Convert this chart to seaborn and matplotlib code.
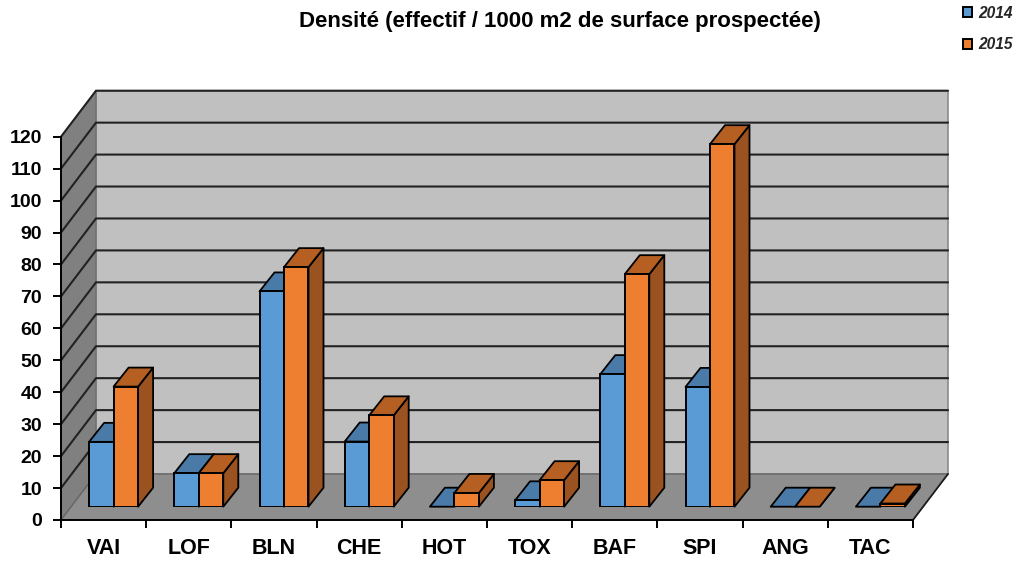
import numpy as np
import pandas as pd
import matplotlib
matplotlib.use("Agg")
import matplotlib.pyplot as plt
from matplotlib.patches import Polygon
import seaborn as sns

categories = ["VAI", "LOF", "BLN", "CHE", "HOT", "TOX", "BAF", "SPI", "ANG", "TAC"]
values_2014 = [20.3, 10.5, 67.4, 20.4, 0, 2, 41.5, 37.5, 0, 0]
values_2015 = [37.6, 10.5, 75, 28.6, 4.3, 8.3, 72.8, 113.5, 0, 1]
years = ["2014", "2015"]
y_ticks = list(range(0, 130, 10))
title = "Densité (effectif / 1000 m2 de surface prospectée)"

W, H = 1020, 565
BLUE, ORANGE = "#5B9BD5", "#EE7F31"
TOP = {0: "#4A7BA8", 1: "#B55F22"}
SIDE = {0: "#41709C", 1: "#9A5220"}

sns.set_theme(style="white")
plt.rcParams["font.family"] = ["Liberation Sans", "DejaVu Sans"]

df = pd.DataFrame({
    "cat": categories * 2,
    "val": values_2014 + values_2015,
    "year": [years[0]] * 10 + [years[1]] * 10,
})

fig = plt.figure(figsize=(W / 100, H / 100), dpi=100, facecolor="white")

def rect(l, r, b, t):
    return [l / W, (H - b) / H, (r - l) / W, (b - t) / H]

ax = fig.add_axes(rect(61, 913, 520, 136.7), facecolor="none")
ax.set_xlim(-0.5, 9.5)
ax.set_ylim(0, 120)
pxx = 10 / 852
pxy = 120 / 383.3
dx, dy = 35 * pxx, 46 * pxy
x0, x1 = -0.5, 9.5
ymax = y_ticks[-1]

# walls
ax.add_patch(Polygon([(x0 + dx, dy), (x1 + dx, dy), (x1 + dx, ymax + dy), (x0 + dx, ymax + dy)],
                     fc="#C0C0C0", ec="#8a8a8a", lw=1.2, clip_on=False, zorder=1))
ax.add_patch(Polygon([(x0, 0), (x0 + dx, dy), (x0 + dx, ymax + dy), (x0, ymax)],
                     fc="#808080", ec="#6a6a6a", lw=0.8, clip_on=False, zorder=1))
ax.add_patch(Polygon([(x0, 0), (x1, 0), (x1 + dx, dy), (x0 + dx, dy)],
                     fc="#8E8E8E", ec="none", clip_on=False, zorder=1))
for v in y_ticks[1:]:
    ax.plot([x0, x0 + dx, x1 + dx], [v, v + dy, v + dy], color="#222222", lw=1.5,
            clip_on=False, zorder=1.5, solid_joinstyle="miter")
ax.plot([x0, x0 + dx, x1 + dx], [0, dy, dy], color="#666666", lw=1, clip_on=False, zorder=1.5)
ax.plot([x1, x1 + dx], [0, dy], color="#1a1a1a", lw=1.3, clip_on=False, zorder=1.5)

ax.set_yticks(y_ticks)
ax.set_xticks(np.arange(11) - 0.5)
ax.set_xticklabels([])
ax.set_xticks(np.arange(10), labels=categories, minor=True)
ax.tick_params(axis="y", which="major", length=6, width=1.4, color="black", left=True,
               labelsize=14, pad=7.5, labelcolor="black")
ax.tick_params(axis="x", which="major", length=6, width=1.4, color="black", bottom=True)
ax.tick_params(axis="x", which="minor", length=0, labelsize=15.5, pad=13, labelcolor="black")
for t in ax.get_yticklabels() + ax.get_xticklabels(minor=True):
    t.set_fontweight("bold")
for s in ("top", "right"):
    ax.spines[s].set_visible(False)
for s in ("left", "bottom"):
    ax.spines[s].set_color("black")
    ax.spines[s].set_linewidth(1.4)
    ax.spines[s].set_zorder(2)
ax.set_xlabel("")
ax.set_ylabel("")

# bars, on a plane set back inside the floor
bx = fig.add_axes(rect(71, 923, 506.7, 123.4), facecolor="none")
sns.barplot(data=df, x="cat", y="val", hue="year", hue_order=years, order=categories,
            palette=[BLUE, ORANGE], width=0.575, gap=0, dodge=True, ax=bx,
            edgecolor="black", linewidth=1.4, saturation=1, legend=True, errorbar=None)
bx.set_xlim(-0.5, 9.5)
bx.set_ylim(0, 120)
bx.axis("off")
ddx, ddy = 15 * pxx, 19 * pxy
for i, cont in enumerate(bx.containers):
    for p in cont.patches:
        p.set_zorder(4)
        xa, w, h = p.get_x(), p.get_width(), p.get_height()
        bx.add_patch(Polygon([(xa + w, 0), (xa + w + ddx, ddy), (xa + w + ddx, h + ddy), (xa + w, h)],
                             fc=SIDE[i], ec="black", lw=1.3, zorder=3, clip_on=False, joinstyle="round"))
        bx.add_patch(Polygon([(xa, h), (xa + w, h), (xa + w + ddx, h + ddy), (xa + ddx, h + ddy)],
                             fc=TOP[i], ec="black", lw=1.3, zorder=3, clip_on=False, joinstyle="round"))

handles, labels = bx.get_legend_handles_labels()
bx.get_legend().remove()
fig.legend(handles, labels, loc="upper left", bbox_to_anchor=(963.5 / W, 1 - 5.5 / H),
           frameon=False, prop={"size": 11.2, "weight": "bold", "style": "italic"},
           handlelength=0.56, handleheight=0.56, handletextpad=0.4, labelspacing=1.08,
           borderpad=0, borderaxespad=0)

fig.text(560 / W, 1 - 21.5 / H, title, ha="center", va="center", fontsize=16,
         fontweight="bold", color="black")

fig.savefig("out.png", dpi=100)
